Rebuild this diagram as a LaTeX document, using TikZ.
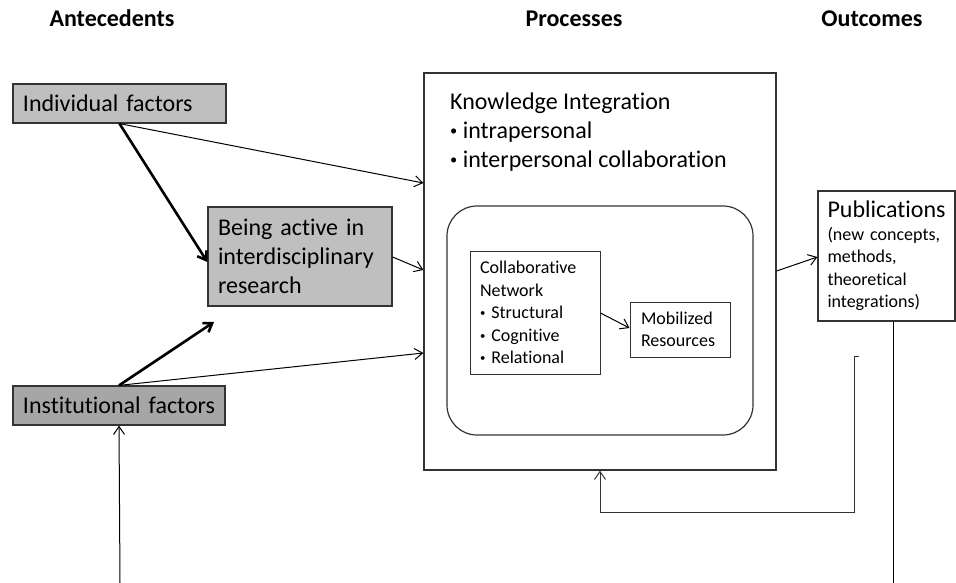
\documentclass[tikz,border=0pt]{standalone}
\usepackage{fontspec}
\setmainfont{Carlito}[RawFeature=-liga]
\usetikzlibrary{arrows.meta,calc,positioning}
\colorlet{box edge}{black!80}
\colorlet{factor light}{black!25}
\colorlet{factor dark}{black!35}
\newcommand{\bigtext}{\fontsize{24}{29}\selectfont}
\newcommand{\smalltext}{\fontsize{18}{22.5}\selectfont}
\newcommand{\itembullet}{\raisebox{0.12em}{\scalebox{0.6}{•}}\ }
\tikzset{factor/.style={draw=box edge, line width=1.2pt, inner xsep=10pt, align=left, font=\bigtext},
    plain/.style={draw=box edge, line width=1.2pt},
    thin arrow/.style={-{Straight Barb[length=8pt,width=11pt]}, line width=1pt},
    thick arrow/.style={-{Straight Barb[length=8pt,width=11pt]}, line width=2.6pt},
    heading/.style={font=\bigtext\bfseries, anchor=base}}

\begin{document}
\begin{tikzpicture}[x=1pt, y=-1pt]
    \useasboundingbox (0,0) rectangle (956,583);
    % column titles
    \node[heading] (antec) at (112,27) {Antecedents};
    \node[heading] (procs) at (574,27) {Processes};
    \node[heading] (outc) at (872,27) {Outcomes};
    % antecedents
    \node[factor, fill=factor light, text width=193pt, minimum height=39pt] (ind) at (119.5,103.5) {Individual factors};
    \node[factor, fill=factor light, text width=164pt, minimum height=99pt] (act) at (300,256.5) {Being active in\\interdisciplinary\\research};
    \node[factor, fill=factor dark, text width=192pt, minimum height=39pt] (inst) at (119,405.5) {\mbox{Institutional factors}};
    % processes
    \node[plain, minimum width=352pt, minimum height=397pt] (proc) at (600,271.5) {};
    \node[anchor=north west, align=left, font=\bigtext, inner sep=0pt] (ki) at (450,93) {Knowledge Integration\\\itembullet intrapersonal\\\itembullet interpersonal collaboration};
    \node[plain, rounded corners=30pt, minimum width=306pt, minimum height=229pt] (net) at (600,320.5) {};
    \node[plain, line width=1pt, text width=110pt, inner xsep=10pt, minimum height=123pt, align=left, font=\smalltext] (collab) at (535,312.5) {Collaborative\\Network\\\itembullet Structural\\\itembullet Cognitive\\\itembullet Relational};
    \node[plain, line width=1pt, text width=78pt, inner xsep=11pt, minimum height=55pt, align=left, font=\smalltext] (mob) at (680,329.5) {Mobilized\\Resources};
    % outcomes
    \node[plain, text width=118pt, inner xsep=9.5pt, minimum height=130pt, align=left, font=\smalltext] (pub) at (886.5,256) {{\bigtext Publications}\\(new concepts,\\methods,\\theoretical\\integrations)};
    \coordinate (instend) at (120,583);
    \coordinate (instup) at (214,322);
    \coordinate (pubend) at (893,583);
    \coordinate (fb) at (859,356);
    % connectors
    \draw[thick arrow] (ind.south) -- (act.west |- 0,262);
    \draw[thick arrow] (inst.north) -- (instup);
    \draw[thin arrow] (ind.south) -- (proc.west |- 0,183);
    \draw[thin arrow] (act.east |- 0,257) -- (proc.west |- 0,270);
    \draw[thin arrow] (inst.north) -- (proc.west |- 0,353);
    \draw[thin arrow] (instend) -- (inst.south);
    \draw[thin arrow] (collab.east |- 0,313) -- (mob.west |- 0,328);
    \draw[thin arrow] (proc.east |- 0,271) -- (pub.west |- 0,257);
    \draw[line width=1pt] (pub.south -| pubend) -- (pubend);
    \draw[thin arrow, draw=box edge] (fb) -- ++(-5,0) |- ($(proc.south)+(0,42)$) -- (proc.south);
\end{tikzpicture}
\end{document}
